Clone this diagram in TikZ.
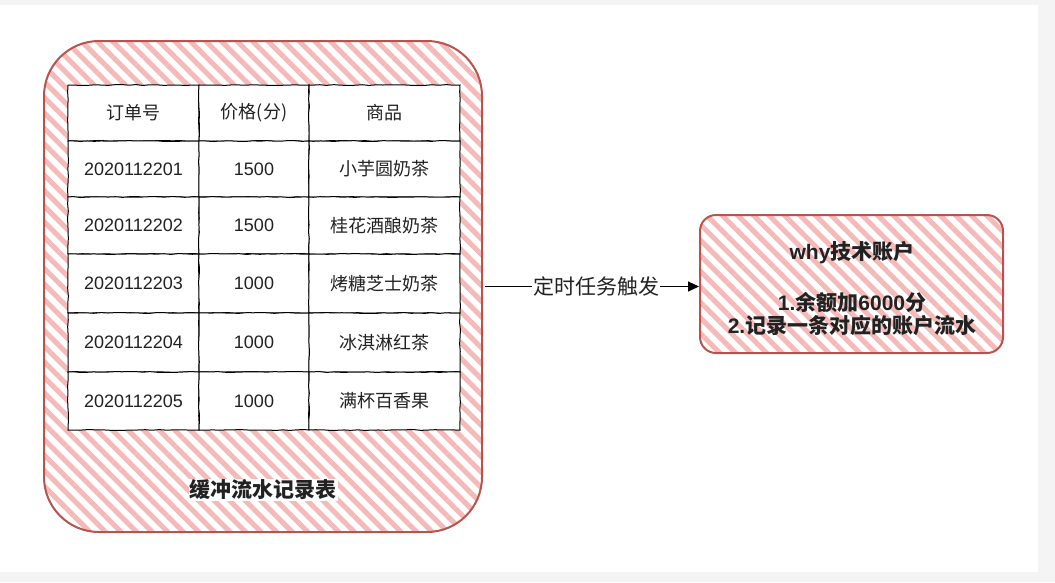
\documentclass[tikz,border=0pt]{standalone}
\usepackage{fontspec}
\setmainfont{Liberation Sans}
\newfontfamily\cjk{Noto Sans CJK SC}
\usetikzlibrary{patterns.meta,arrows.meta,decorations.pathmorphing}
\definecolor{redline}{HTML}{B85450}
\definecolor{hatchc}{HTML}{F5BAB8}
\definecolor{bggray}{HTML}{F4F4F4}
\definecolor{txt}{HTML}{222222}
\begin{document}
\begin{tikzpicture}[x=1pt,y=-1pt,
  hatchbox/.style={draw=redline, line width=2pt,
    pattern={Lines[angle=-45,distance=11pt,line width=5pt]}, pattern color=hatchc,
    inner sep=0pt},
  cell/.style={draw=black, line width=1pt, fill=white, inner sep=0pt,
    font=\fontsize{18}{21}\selectfont, text=txt,
    decorate, decoration={random steps,segment length=7pt,amplitude=0.45pt}},
  bold/.style={font=\fontsize{21}{24}\selectfont\bfseries, text=txt, inner sep=0pt},
  conn/.style={draw=black, line width=1pt, -{Triangle[length=11pt,width=10pt]}}]
\pgfmathsetseed{7}
\useasboundingbox (0,0) rectangle (1055,582);
\fill[bggray] (0,0) rectangle (1055,582);
\fill[white] (0,5) rectangle (1038,572);

% buffer table container
\node[hatchbox, rounded corners=55pt, minimum width=438pt, minimum height=491pt] (buf) at (263,286.5) {};
\node[bold, fill=white, inner sep=1pt] (buflbl) at (263,490) {\cjk 缓冲流水记录表};

% table cells
\foreach \r/\ya/\yb/\ta/\tb/\tc in {
  1/85/141/{\cjk 订单号}/{\cjk 价格(分)}/{\cjk 商品},
  2/141/197/2020112201/1500/{\cjk 小芋圆奶茶},
  3/197/254/2020112202/1500/{\cjk 桂花酒酿奶茶},
  4/254/313/2020112203/1000/{\cjk 烤糖芝士奶茶},
  5/313/372/2020112204/1000/{\cjk 冰淇淋红茶},
  6/372/430/2020112205/1000/{\cjk 满杯百香果}}{
  \pgfmathsetmacro\h{\yb-\ya}
  \pgfmathsetmacro\yc{(\ya+\yb)/2}
  \node[cell, minimum width=131pt, minimum height=\h pt] (c\r-1) at (133.5,\yc) {\ta};
  \node[cell, minimum width=110pt, minimum height=\h pt] (c\r-2) at (254,\yc) {\tb};
  \node[cell, minimum width=151pt, minimum height=\h pt] (c\r-3) at (384.5,\yc) {\tc};
}

% account box
\node[hatchbox, rounded corners=16pt, minimum width=303pt, minimum height=138pt] (acct) at (851.5,284) {};
\node[bold] (accttitle) at (852,253) {why{\cjk 技术账户}};
\node[bold] (acctl1) at (852,302) {1.{\cjk 余额加}6000{\cjk 分}};
\node[bold] (acctl2) at (852,325) {2.{\cjk 记录一条对应的账户流水}};

% connector
\draw[conn] (buf.east) -- (buf.east -| acct.west)
  node[pos=0.52, fill=white, inner sep=1pt, font=\fontsize{21}{24}\selectfont, text=txt] (trig) {\cjk 定时任务触发};
\end{tikzpicture}
\end{document}
